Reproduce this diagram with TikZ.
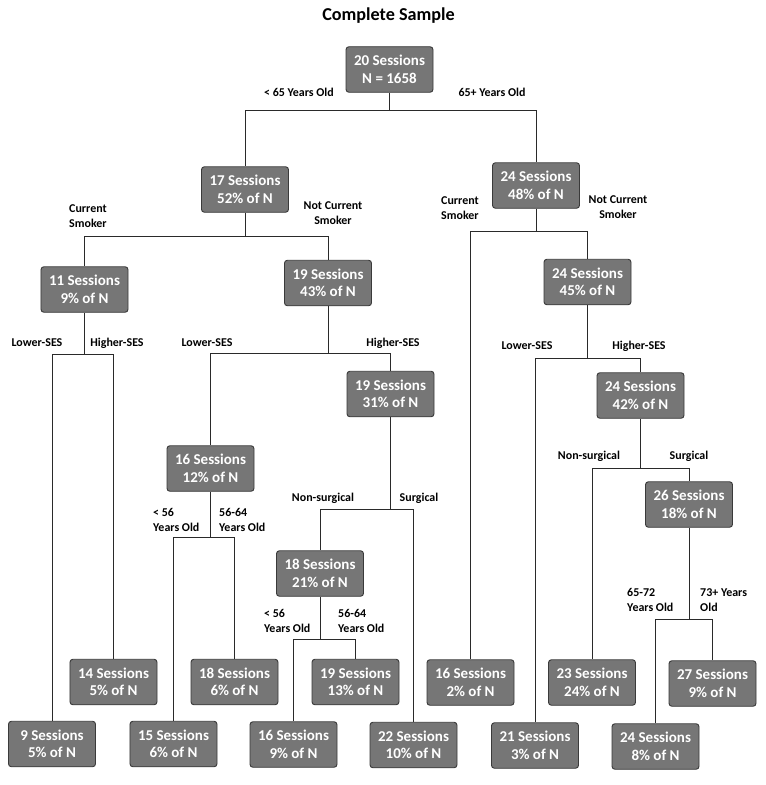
\documentclass[tikz,border=0pt]{standalone}
\usepackage{fontspec}
\setmainfont{Carlito}
\usepackage{tikz}
\usetikzlibrary{positioning,calc}
\definecolor{BoxGray}{HTML}{767676}
\definecolor{BoxEdge}{HTML}{3A3A3A}
\definecolor{LinkDark}{HTML}{2A2A2A}
\tikzset{
  sessbox/.style={draw=BoxEdge, fill=BoxGray, rounded corners=2.5pt, line width=0.8pt,
    minimum width=2.61cm, minimum height=1.365cm, inner sep=0pt, align=center,
    text=white, font=\fontsize{12.8}{15}\selectfont\bfseries},
  splitlbl/.style={font=\fontsize{10.2}{12.5}\selectfont\bfseries, inner sep=0pt, align=center},
  leftlbl/.style={splitlbl, anchor=west, align=left},
  link/.style={draw=LinkDark, line width=0.75pt}
}

\begin{document}
\begin{tikzpicture}[x=0.03cm, y=-0.03cm]
  \useasboundingbox (0,0) rectangle (766,785);

  % Title
  \node[font=\fontsize{15.5}{18}\selectfont\bfseries] (title) at (388.5,16) {Complete Sample};

  % Inner nodes
  \node[sessbox] (nRoot) at (389.5,69.5) {20 Sessions\\N = 1658};
  \node[sessbox] (nA17) at (245,189.5) {17 Sessions\\52\% of N};
  \node[sessbox] (nB24) at (536,185.5) {24 Sessions\\48\% of N};
  \node[sessbox] (nA11) at (84.5,289.5) {11 Sessions\\9\% of N};
  \node[sessbox] (nA19) at (328,283) {19 Sessions\\43\% of N};
  \node[sessbox] (nB24s) at (587.5,282) {24 Sessions\\45\% of N};
  \node[sessbox] (nA16) at (210.5,468.5) {16 Sessions\\12\% of N};
  \node[sessbox] (nA19h) at (390.5,394) {19 Sessions\\31\% of N};
  \node[sessbox] (nB24h) at (640.5,395.5) {24 Sessions\\42\% of N};
  \node[sessbox] (nA18) at (320,573.5) {18 Sessions\\21\% of N};
  \node[sessbox] (nB26) at (689,504.5) {26 Sessions\\18\% of N};

  % Leaves (upper row)
  \node[sessbox] (lf14) at (113.5,682) {14 Sessions\\5\% of N};
  \node[sessbox] (lf18) at (234.5,682) {18 Sessions\\6\% of N};
  \node[sessbox] (lf19) at (355.5,682) {19 Sessions\\13\% of N};
  \node[sessbox] (lf16b) at (470.5,682.5) {16 Sessions\\2\% of N};
  \node[sessbox] (lf23) at (592,682.5) {23 Sessions\\24\% of N};
  \node[sessbox] (lf27) at (712.5,683.5) {27 Sessions\\9\% of N};

  % Leaves (lower row)
  \node[sessbox] (lf9) at (52,744) {9 Sessions\\5\% of N};
  \node[sessbox] (lf15) at (173.5,744) {15 Sessions\\6\% of N};
  \node[sessbox] (lf16a) at (293.5,744.5) {16 Sessions\\9\% of N};
  \node[sessbox] (lf22) at (413.5,745) {22 Sessions\\10\% of N};
  \node[sessbox] (lf21) at (535,745.5) {21 Sessions\\3\% of N};
  \node[sessbox] (lf24) at (655.5,746.5) {24 Sessions\\8\% of N};

  % Split points
  \coordinate (sRoot) at (nRoot.south |- 0,110);
  \coordinate (sA17) at (nA17.south |- 0,236);
  \coordinate (sB24) at (nB24.south |- 0,231);
  \coordinate (sA11) at (nA11.south |- 0,354);
  \coordinate (sA19) at (nA19.south |- 0,353);
  \coordinate (sB24s) at (nB24s.south |- 0,358);
  \coordinate (sA16) at (nA16.south |- 0,537);
  \coordinate (sA19h) at (nA19h.south |- 0,509);
  \coordinate (sB24h) at (nB24h.south |- 0,468);
  \coordinate (sA18) at (nA18.south |- 0,639);
  \coordinate (sB26) at (nB26.south |- 0,619);

  % Connectors
  \draw[link] (nRoot.south) -- (sRoot) -| (nA17.north);
  \draw[link] (sRoot) -| (nB24.north);
  \draw[link] (nA17.south) -- (sA17) -| (nA11.north);
  \draw[link] (sA17) -| (nA19.north);
  \draw[link] (nB24.south) -- (sB24) -| (lf16b.north);
  \draw[link] (sB24) -| (nB24s.north);
  \draw[link] (nA11.south) -- (sA11) -| (lf9.north);
  \draw[link] (sA11) -| (lf14.north);
  \draw[link] (nA19.south) -- (sA19) -| (nA16.north);
  \draw[link] (sA19) -| (nA19h.north);
  \draw[link] (nB24s.south) -- (sB24s) -| (lf21.north);
  \draw[link] (sB24s) -| (nB24h.north);
  \draw[link] (nA16.south) -- (sA16) -| (lf15.north);
  \draw[link] (sA16) -| (lf18.north);
  \draw[link] (nA19h.south) -- (sA19h) -| (nA18.north);
  \draw[link] (sA19h) -| (lf22.north);
  \draw[link] (nB24h.south) -- (sB24h) -| (lf23.north);
  \draw[link] (sB24h) -| (nB26.north);
  \draw[link] (nA18.south) -- (sA18) -| (lf16a.north);
  \draw[link] (sA18) -| (lf19.north);
  \draw[link] (nB26.south) -- (sB26) -| (lf24.north);
  \draw[link] (sB26) -| (lf27.north);

  % Split labels
  \node[splitlbl] (tAgeLo) at (299,92) {< 65 Years Old};
  \node[splitlbl] (tAgeHi) at (492,92) {65+ Years Old};
  \node[splitlbl, align=left] (tSmkA) at (88,216) {Current\\Smoker};
  \node[splitlbl] (tNoSmkA) at (333,213) {Not Current\\Smoker};
  \node[splitlbl, align=left] (tSmkB) at (460,208) {Current\\Smoker};
  \node[splitlbl] (tNoSmkB) at (618,207) {Not Current\\Smoker};
  \node[splitlbl] (tLoA) at (37,343) {Lower-SES};
  \node[splitlbl] (tHiA) at (117,343) {Higher-SES};
  \node[splitlbl] (tLoB) at (207,343) {Lower-SES};
  \node[splitlbl] (tHiB) at (393,343) {Higher-SES};
  \node[splitlbl] (tLoC) at (527,346) {Lower-SES};
  \node[splitlbl] (tHiC) at (639,346) {Higher-SES};
  \node[leftlbl] (tYngA) at (153,520) {< 56\\Years Old};
  \node[leftlbl] (tMidA) at (219,520) {56-64\\Years Old};
  \node[splitlbl] (tNsA) at (323,498) {Non-surgical};
  \node[splitlbl] (tSgA) at (419,498) {Surgical};
  \node[splitlbl] (tNsB) at (589,456) {Non-surgical};
  \node[splitlbl] (tSgB) at (689,456) {Surgical};
  \node[leftlbl] (tYngB) at (264,621) {< 56\\Years Old};
  \node[leftlbl] (tMidB) at (338,621) {56-64\\Years Old};
  \node[leftlbl] (tOldA) at (627,600) {65-72\\Years Old};
  \node[leftlbl] (tOldB) at (700,600) {73+ Years\\Old};
\end{tikzpicture}
\end{document}
